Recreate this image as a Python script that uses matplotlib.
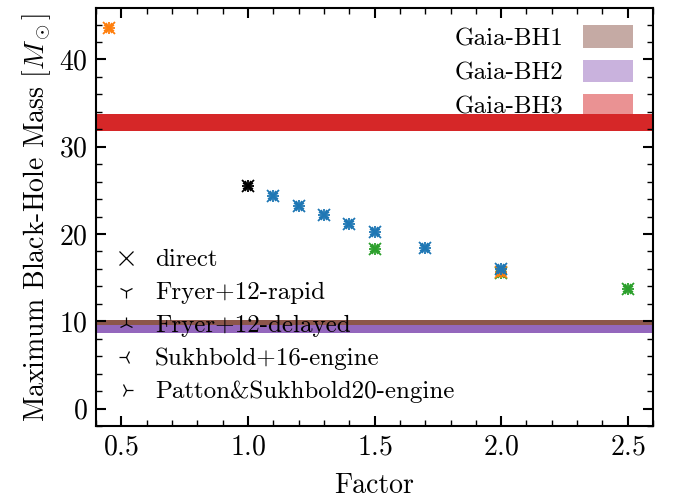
import matplotlib
matplotlib.use("Agg")
import matplotlib.pyplot as plt
from matplotlib.lines import Line2D
from matplotlib.patches import Patch

plt.rcParams['font.family'] = 'serif'
plt.rcParams['font.serif'] = ['cmr10', 'DejaVu Serif']
plt.rcParams['mathtext.fontset'] = 'cm'
plt.rcParams['axes.formatter.use_mathtext'] = True
plt.rcParams['font.size'] = 18

# data
orange_x = [0.45, 2.0]
orange_y = [43.6, 15.7]
black_x = [1.0]
black_y = [25.5]
blue_x = [1.1, 1.2, 1.3, 1.4, 1.5, 1.7, 2.0]
blue_y = [24.3, 23.2, 22.2, 21.1, 20.2, 18.4, 16.0]
green_x = [1.5, 2.0, 2.5]
green_y = [18.3, 15.5, 13.7]

band_names = ['Gaia-BH1', 'Gaia-BH2', 'Gaia-BH3']
band_lo = [9.6, 8.6, 31.75]
band_hi = [10.15, 9.6, 33.7]
band_colors = ['#8c564b', '#9467bd', '#d62728']

model_names = ['direct', 'Fryer+12-rapid', 'Fryer+12-delayed',
               'Sukhbold+16-engine', 'Patton&Sukhbold20-engine']
model_markers = ['x', '1', '2', '3', '4']

fig = plt.figure(figsize=(6.81, 5.0), dpi=100)
ax = fig.add_axes([0.141, 0.148, 0.818, 0.836])

for lo, hi, c in zip(band_lo, band_hi, band_colors):
    ax.axhspan(lo, hi, color=c, lw=0, zorder=1)

series = [(green_x, green_y, 'tab:green'), (orange_x, orange_y, 'tab:orange'),
          (blue_x, blue_y, 'tab:blue'), (black_x, black_y, 'black')]
for xs, ys, c in series:
    for m in model_markers:
        ax.plot(xs, ys, ls='none', marker=m, ms=9, mew=1.3, color=c, zorder=3)

ax.set_xlim(0.4, 2.6)
ax.set_ylim(-2, 45.9)
ax.set_xticks([0.5, 1.0, 1.5, 2.0, 2.5])
ax.set_yticks([0, 10, 20, 30, 40])
ax.xaxis.set_minor_locator(matplotlib.ticker.MultipleLocator(0.1))
ax.yaxis.set_minor_locator(matplotlib.ticker.MultipleLocator(2))
ax.tick_params(which='both', direction='in', top=True, right=True, labelsize=20)
ax.tick_params(which='major', length=7, width=1.5, pad=6)
ax.tick_params(which='minor', length=4, width=1.0)
for s in ax.spines.values():
    s.set_linewidth(1.5)

ax.set_xlabel('Factor', fontsize=20, labelpad=9)
ax.set_ylabel(r'Maximum Black-Hole Mass $[M_\odot]$', fontsize=20, labelpad=4)

h1 = [Line2D([], [], ls='none', marker=m, color='black', ms=10, mew=0.9) for m in model_markers]
leg1 = ax.legend(h1, model_names, loc='lower left', frameon=False, fontsize=18,
                 labelspacing=0.42, handletextpad=0.66, handlelength=1.0,
                 borderaxespad=0.3, bbox_to_anchor=(0.0, 0.012))
ax.add_artist(leg1)
h2 = [Patch(facecolor=c, alpha=0.5, lw=0) for c in band_colors]
ax.legend(h2, band_names, loc='upper right', frameon=False, fontsize=18,
          markerfirst=False, labelspacing=0.38, handlelength=2.0, handleheight=1.0,
          handletextpad=0.8, bbox_to_anchor=(1.005, 1.012))

fig.savefig('out.png', dpi=100)
